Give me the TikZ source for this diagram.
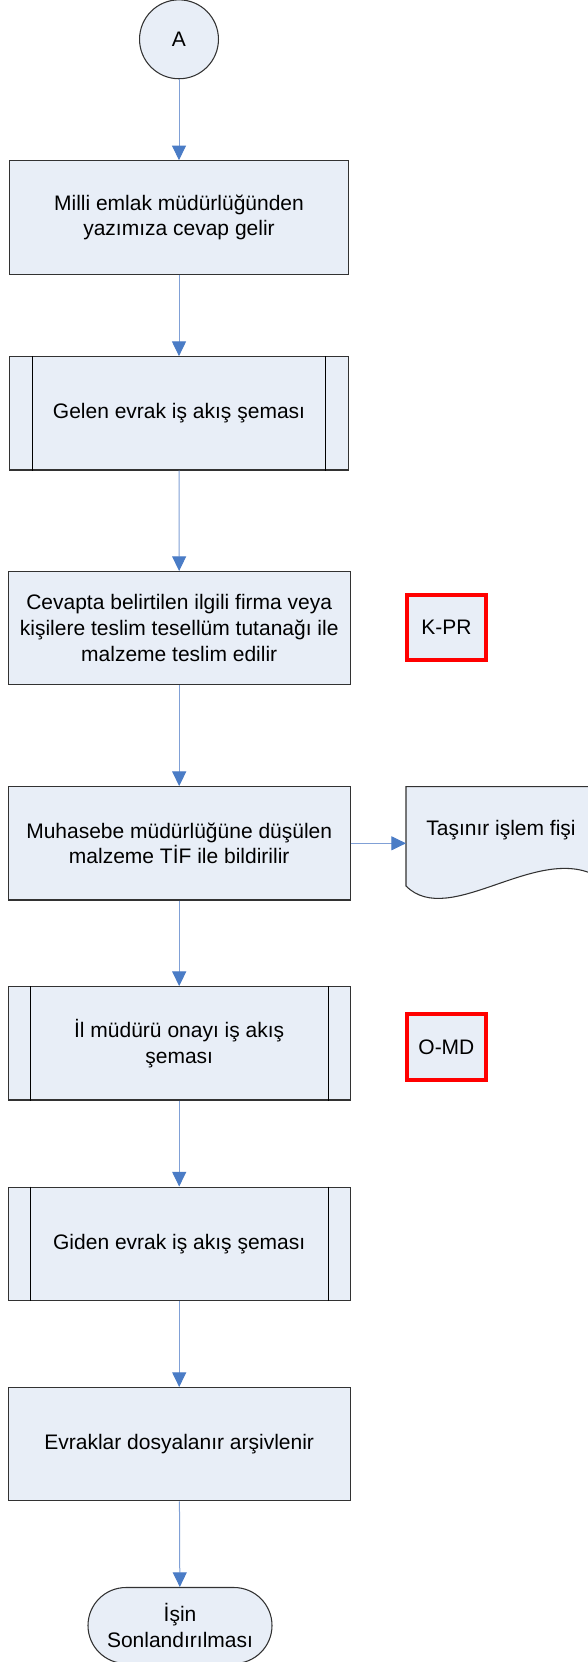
\documentclass[tikz,border=0pt]{standalone}
\usepackage{fontspec}
\setmainfont{Liberation Sans}
\usetikzlibrary{arrows.meta}
\definecolor{boxfill}{RGB}{232,238,247}
\definecolor{arrowblue}{RGB}{74,124,198}
\definecolor{lineblue}{RGB}{128,160,214}
\definecolor{edge}{RGB}{50,50,50}
\begin{document}
\begin{tikzpicture}[x=0.75pt,y=-0.75pt,
  every node/.style={font=\fontsize{15.75}{19.3}\selectfont, text=black},
  proc/.style={draw=edge, line width=0.8pt, fill=boxfill, minimum width=256.5pt,
    minimum height=85pt, align=center, inner sep=0pt},
  tagbox/.style={draw=red, line width=3pt, fill=boxfill, minimum width=59pt,
    minimum height=49pt, inner sep=0pt},
  conn/.style={draw=lineblue, line width=0.75pt,
    -{Triangle[width=10.5pt,length=11pt,color=arrowblue]}},
  subline/.style={draw=black, line width=0.75pt}]
\clip (0,0) rectangle (588,1662);
\fill[white] (0,0) rectangle (588,1662);

% start connector
\node[draw=edge, line width=0.8pt, fill=boxfill, circle, minimum size=59.2pt, inner sep=0pt] (A) at (179,39.3) {A};

\node[proc, minimum width=254.5pt] (b1) at (179,217.4) {Milli emlak müdürlüğünden\\yazımıza cevap gelir};
\node[proc, minimum width=254pt] (b2) at (179,413.3) {Gelen evrak iş akış şeması};
\node[proc] (b3) at (179.2,628.2) {Cevapta belirtilen ilgili firma veya\\kişilere teslim tesellüm tutanağı ile\\malzeme teslim edilir};
\node[tagbox] (kpr) at (446.4,627.4) {K-PR};
\node[proc] (b4) at (179.2,843.3) {Muhasebe müdürlüğüne düşülen\\malzeme TİF ile bildirilir};

% document shape
\draw[draw=edge, line width=0.8pt, fill=boxfill]
  (406,886) -- (406,786.7) -- (600,786.7) -- (600,878)
  .. controls (540,840) and (450,930) .. (406,886) -- cycle;
\node (doc) at (501,830) {Taşınır işlem fişi};
\coordinate (docin) at (406,843.3);

\node[proc] (b5) at (179.2,1043.3) {İl müdürü onayı iş akış\\şeması};
\node[tagbox, minimum height=49.5pt] (omd) at (446.4,1047.3) {O-MD};
\node[proc] (b6) at (179.2,1243.7) {Giden evrak iş akış şeması};
\node[proc] (b7) at (179.2,1444.2) {Evraklar dosyalanır arşivlenir};
\node[draw=edge, line width=0.8pt, fill=boxfill, minimum width=138pt, minimum height=57pt,
  rounded corners=28.5pt, align=center, inner sep=0pt] (end) at (180,1625.5) {İşin\\Sonlandırılması};

% predefined-process side bars
\draw[subline] ([xshift=17.25pt]b2.north west) -- ([xshift=17.25pt]b2.south west);
\draw[subline] ([xshift=-17.25pt]b2.north east) -- ([xshift=-17.25pt]b2.south east);
\foreach \b in {b5,b6}{
  \draw[subline] ([xshift=16.9pt]\b.north west) -- ([xshift=16.9pt]\b.south west);
  \draw[subline] ([xshift=-16.9pt]\b.north east) -- ([xshift=-16.9pt]\b.south east);
}

% connectors
\draw[conn] (A) -- (b1);
\draw[conn] (b1) -- (b2);
\draw[conn] (b2) -- (b3);
\draw[conn] (b3) -- (b4);
\draw[conn] (b4.east) -- (docin);
\draw[conn] (b4) -- (b5);
\draw[conn] (b5) -- (b6);
\draw[conn] (b6) -- (b7);
\draw[conn] (b7) -- (end);
\end{tikzpicture}
\end{document}
